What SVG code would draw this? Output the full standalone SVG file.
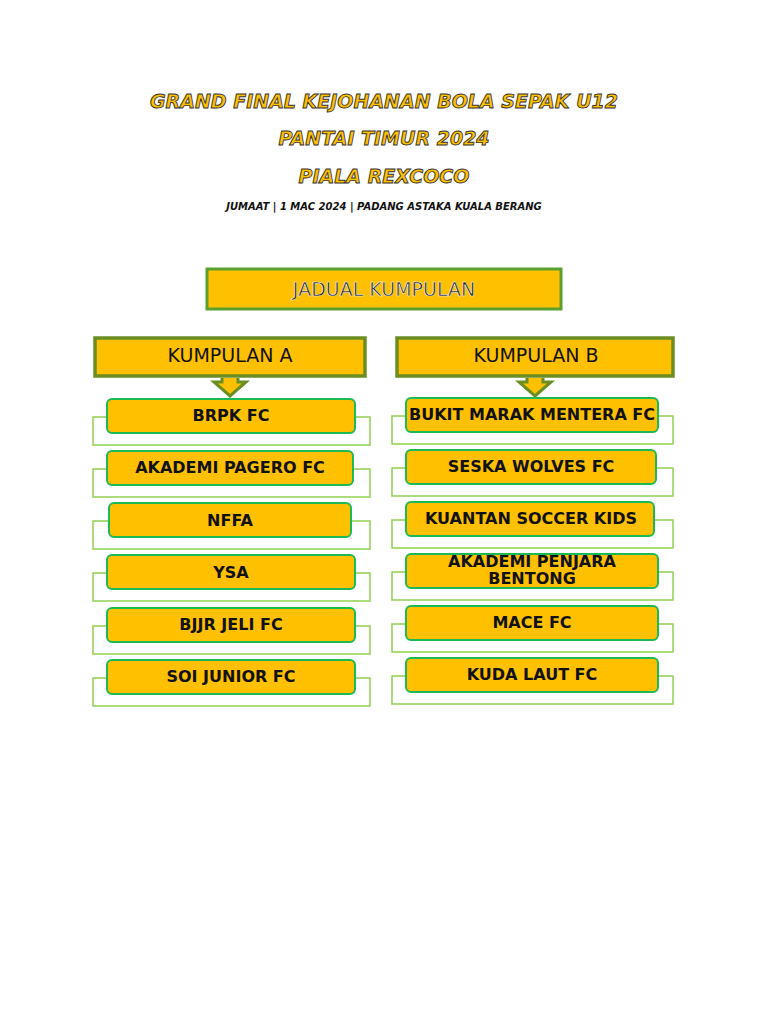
<svg xmlns="http://www.w3.org/2000/svg" width="768" height="1024" viewBox="0 0 768 1024">
<style>
.t{font-family:"DejaVu Sans",sans-serif;font-weight:bold;font-style:italic;fill:#FFC000;stroke:#333;stroke-width:0.9;text-anchor:middle;font-size:19px}
.sub{font-family:"DejaVu Sans",sans-serif;font-weight:bold;font-style:italic;font-size:10px;fill:#111;text-anchor:middle}
.bg{fill:#fff;stroke:#92D050;stroke-width:1.5}
.y{fill:#FFC000;stroke:#1DB954;stroke-width:2}
.lbl{font-family:"DejaVu Sans",sans-serif;font-weight:bold;font-size:16px;fill:#111;text-anchor:middle}
.hd{fill:#FFC000;stroke:#6B8E23;stroke-width:3.5}
.hl{font-family:"DejaVu Sans",sans-serif;font-size:19px;fill:#111;text-anchor:middle}
.ar{fill:#FFC000;stroke:#6B8E23;stroke-width:3;stroke-linejoin:miter}
</style>
<text class="t" x="384" y="108">GRAND FINAL KEJOHANAN BOLA SEPAK U12</text>
<text class="t" x="384" y="145">PANTAI TIMUR 2024</text>
<text class="t" x="384" y="183">PIALA REXCOCO</text>
<text class="sub" x="384" y="210">JUMAAT | 1 MAC 2024 | PADANG ASTAKA KUALA BERANG</text>
<g id="jadual"><rect x="207" y="269" width="354" height="40" fill="#FFC000" stroke="#5AA02C" stroke-width="3"/>
<text x="384" y="296" font-family="DejaVu Sans,sans-serif" font-size="19" fill="#222" stroke="#fff" stroke-width="0.5" text-anchor="middle">JADUAL KUMPULAN</text></g>
<g id="kumpulanA"><rect class="hd" x="95" y="338" width="270" height="38"/><text class="hl" x="230" y="362">KUMPULAN A</text></g>
<g id="kumpulanB"><rect class="hd" x="397" y="338" width="276" height="38"/><text class="hl" x="536" y="362">KUMPULAN B</text></g>
<g id="connectors">
<path class="ar" d="M222 378 L222 382 L214 382 L230 396 L246 382 L238 382 L238 378"/>
<path class="ar" d="M527 378 L527 382 L519 382 L535 396 L551 382 L543 382 L543 378"/>
</g>
<g id="a1"><rect class="bg" x="93" y="417" width="277" height="28"/><rect class="y" x="107" y="399" width="248" height="34" rx="5"/><text class="lbl" x="231" y="421">BRPK FC</text></g>
<g id="a2"><rect class="bg" x="93" y="469" width="277" height="28"/><rect class="y" x="107" y="451" width="246" height="34" rx="5"/><text class="lbl" x="230" y="473">AKADEMI PAGERO FC</text></g>
<g id="a3"><rect class="bg" x="93" y="521" width="277" height="28"/><rect class="y" x="109" y="503" width="242" height="34" rx="5"/><text class="lbl" x="230" y="526">NFFA</text></g>
<g id="a4"><rect class="bg" x="93" y="573" width="277" height="28"/><rect class="y" x="107" y="555" width="248" height="34" rx="5"/><text class="lbl" x="231" y="578">YSA</text></g>
<g id="a5"><rect class="bg" x="93" y="626" width="277" height="28"/><rect class="y" x="107" y="608" width="248" height="34" rx="5"/><text class="lbl" x="231" y="630">BJJR JELI FC</text></g>
<g id="a6"><rect class="bg" x="93" y="678" width="277" height="28"/><rect class="y" x="107" y="660" width="248" height="34" rx="5"/><text class="lbl" x="231" y="682">SOI JUNIOR FC</text></g>
<g id="b1"><rect class="bg" x="392" y="416" width="281" height="28"/><rect class="y" x="406" y="398" width="252" height="34" rx="5"/><text class="lbl" x="532" y="420" font-size="14">BUKIT MARAK MENTERA FC</text></g>
<g id="b2"><rect class="bg" x="392" y="468" width="281" height="28"/><rect class="y" x="406" y="450" width="250" height="34" rx="5"/><text class="lbl" x="531" y="472">SESKA WOLVES FC</text></g>
<g id="b3"><rect class="bg" x="392" y="520" width="281" height="28"/><rect class="y" x="406" y="502" width="248" height="34" rx="5"/><text class="lbl" x="531" y="524">KUANTAN SOCCER KIDS</text></g>
<g id="b4"><rect class="bg" x="392" y="572" width="281" height="28"/><rect class="y" x="406" y="554" width="252" height="34" rx="5"/><text class="lbl" x="532" y="567" font-size="14">AKADEMI PENJARA</text><text class="lbl" x="532" y="584" font-size="14">BENTONG</text></g>
<g id="b5"><rect class="bg" x="392" y="624" width="281" height="28"/><rect class="y" x="406" y="606" width="252" height="34" rx="5"/><text class="lbl" x="532" y="628">MACE FC</text></g>
<g id="b6"><rect class="bg" x="392" y="676" width="281" height="28"/><rect class="y" x="406" y="658" width="252" height="34" rx="5"/><text class="lbl" x="532" y="680">KUDA LAUT FC</text></g>
</svg>
